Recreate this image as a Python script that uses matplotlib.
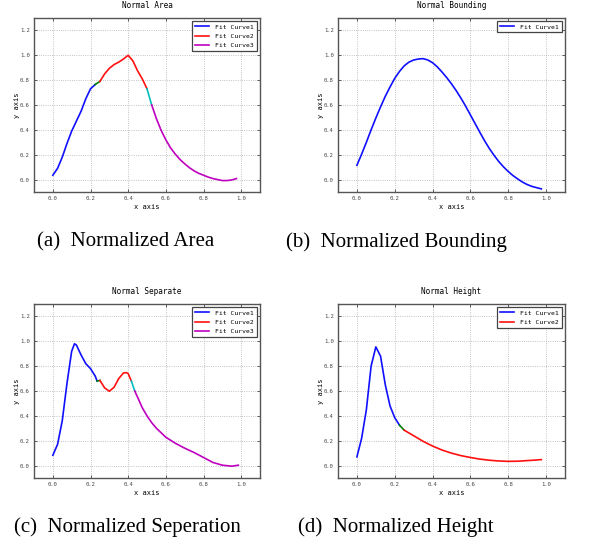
import matplotlib
matplotlib.use("Agg")
import matplotlib.pyplot as plt

W, H = 591, 546

# ---------------- data ----------------
area_x1 = [0.0, 0.025, 0.05, 0.075, 0.1, 0.125, 0.15, 0.175, 0.2, 0.225]
area_y1 = [0.035, 0.09, 0.18, 0.29, 0.39, 0.47, 0.55, 0.65, 0.73, 0.765]
area_xj1 = [0.225, 0.25]
area_yj1 = [0.765, 0.79]
area_x2 = [0.25, 0.275, 0.3, 0.325, 0.35, 0.375, 0.4, 0.425, 0.45, 0.475, 0.5]
area_y2 = [0.79, 0.85, 0.895, 0.925, 0.945, 0.97, 1.0, 0.955, 0.875, 0.81, 0.73]
area_xj2 = [0.5, 0.525]
area_yj2 = [0.73, 0.6]
area_x3 = [0.525, 0.55, 0.575, 0.6, 0.625, 0.65, 0.675, 0.7, 0.725, 0.75, 0.775,
           0.8, 0.825, 0.85, 0.875, 0.9, 0.925, 0.95, 0.975]
area_y3 = [0.6, 0.49, 0.396, 0.32, 0.255, 0.205, 0.162, 0.127, 0.096, 0.07, 0.05,
           0.035, 0.02, 0.008, 0.0, -0.008, -0.008, -0.003, 0.008]

bound_x = [0.0, 0.025, 0.05, 0.075, 0.1, 0.125, 0.15, 0.175, 0.2, 0.225, 0.25,
           0.275, 0.3, 0.325, 0.35, 0.375, 0.4, 0.425, 0.45, 0.475, 0.5, 0.525,
           0.55, 0.575, 0.6, 0.625, 0.65, 0.675, 0.7, 0.725, 0.75, 0.775, 0.8,
           0.825, 0.85, 0.875, 0.9, 0.925, 0.95, 0.975]
bound_y = [0.115, 0.205, 0.30, 0.40, 0.495, 0.585, 0.67, 0.745, 0.815, 0.87, 0.915,
           0.945, 0.962, 0.97, 0.973, 0.962, 0.94, 0.907, 0.865, 0.82, 0.77, 0.715,
           0.655, 0.59, 0.52, 0.45, 0.38, 0.312, 0.25, 0.195, 0.145, 0.102, 0.065,
           0.032, 0.005, -0.02, -0.04, -0.055, -0.065, -0.075]

sep_x1 = [0.0, 0.025, 0.05, 0.075, 0.1, 0.115, 0.125, 0.15, 0.175, 0.2, 0.225, 0.235]
sep_y1 = [0.083, 0.17, 0.36, 0.66, 0.92, 0.98, 0.97, 0.89, 0.82, 0.78, 0.72, 0.68]
sep_xj1 = [0.235, 0.25]
sep_yj1 = [0.68, 0.685]
sep_x2 = [0.25, 0.275, 0.3, 0.325, 0.35, 0.375, 0.39, 0.4, 0.417]
sep_y2 = [0.685, 0.625, 0.598, 0.63, 0.70, 0.745, 0.748, 0.74, 0.68]
sep_xj2 = [0.417, 0.435]
sep_yj2 = [0.68, 0.6]
sep_x3 = [0.435, 0.45, 0.475, 0.5, 0.525, 0.55, 0.6, 0.65, 0.7, 0.75, 0.8, 0.85,
          0.9, 0.95, 0.985]
sep_y3 = [0.6, 0.55, 0.465, 0.4, 0.345, 0.3, 0.228, 0.18, 0.14, 0.105, 0.065,
          0.025, 0.003, -0.005, 0.003]

hgt_x1 = [0.0, 0.025, 0.05, 0.075, 0.1, 0.125, 0.15, 0.175, 0.2, 0.225]
hgt_y1 = [0.07, 0.22, 0.45, 0.8, 0.955, 0.88, 0.65, 0.48, 0.385, 0.325]
hgt_xj1 = [0.225, 0.25]
hgt_yj1 = [0.325, 0.285]
hgt_x2 = [0.25, 0.3, 0.35, 0.4, 0.45, 0.5, 0.55, 0.6, 0.65, 0.7, 0.75, 0.8, 0.85,
          0.9, 0.95, 0.975]
hgt_y2 = [0.285, 0.24, 0.195, 0.157, 0.125, 0.1, 0.08, 0.065, 0.052, 0.043, 0.037,
          0.034, 0.035, 0.04, 0.045, 0.048]

titles = ["Normal Area", "Normal Bounding", "Normal Separate", "Normal Height"]
captions = ["(a)  Normalized Area", "(b)  Normalized Bounding",
            "(c)  Normalized Seperation", "(d)  Normalized Height"]
xticks = [0.0, 0.2, 0.4, 0.6, 0.8, 1.0]
yticks = [0.0, 0.2, 0.4, 0.6, 0.8, 1.0, 1.2]

# ---------------- style ----------------
BLUE, RED, MAG, GRN, CYN = "#1010ff", "#ff1010", "#bf00bf", "#008000", "#00bfbf"
MONO = "DejaVu Sans Mono"

fig = plt.figure(figsize=(W / 100, H / 100), dpi=100)


def make_ax(l, r, t, b):
    return fig.add_axes([l / W, (H - b) / H, (r - l) / W, (b - t) / H])


def style(ax, title):
    ax.set_xlim(-0.1, 1.1)
    ax.set_ylim(-0.1, 1.3)
    ax.set_xticks(xticks)
    ax.set_yticks(yticks)
    ax.set_xticklabels([f"{v:.1f}" for v in xticks], family=MONO, fontsize=4)
    ax.set_yticklabels([f"{v:.1f}" for v in yticks], family=MONO, fontsize=4)
    ax.tick_params(direction="in", length=2, width=0.6, colors="#444444",
                   top=True, right=True, pad=3)
    ax.grid(True, linestyle=":", color="#b0b0b0", linewidth=0.6)
    for s in ax.spines.values():
        s.set_color("#555555")
        s.set_linewidth(1.0)
    ax.set_title(title, family=MONO, fontsize=5.5, pad=7)
    ax.set_xlabel("x axis", family=MONO, fontsize=5, labelpad=2)
    ax.set_ylabel("y axis", family=MONO, fontsize=5, labelpad=0)


def legend(ax):
    leg = ax.legend(loc="upper right", prop={"family": MONO, "size": 4.6},
                    fancybox=False, framealpha=1, handlelength=2.2,
                    borderpad=0.45, labelspacing=0.6, handletextpad=1.0)
    leg.get_frame().set_edgecolor("#444444")
    leg.get_frame().set_linewidth(0.9)


LW = 1.2
ax = make_ax(34, 260, 18, 192)
ax.plot(area_x1, area_y1, color=BLUE, lw=LW, label="Fit Curve1")
ax.plot(area_xj1, area_yj1, color=GRN, lw=LW)
ax.plot(area_x2, area_y2, color=RED, lw=LW, label="Fit Curve2")
ax.plot(area_xj2, area_yj2, color=CYN, lw=LW)
ax.plot(area_x3, area_y3, color=MAG, lw=LW, label="Fit Curve3")
style(ax, titles[0])
legend(ax)

ax = make_ax(338, 565, 18, 192)
ax.plot(bound_x, bound_y, color=BLUE, lw=LW, label="Fit Curve1")
style(ax, titles[1])
legend(ax)

ax = make_ax(34, 260, 304, 478)
ax.plot(sep_x1, sep_y1, color=BLUE, lw=LW, label="Fit Curve1")
ax.plot(sep_xj1, sep_yj1, color=GRN, lw=LW)
ax.plot(sep_x2, sep_y2, color=RED, lw=LW, label="Fit Curve2")
ax.plot(sep_xj2, sep_yj2, color=CYN, lw=LW)
ax.plot(sep_x3, sep_y3, color=MAG, lw=LW, label="Fit Curve3")
style(ax, titles[2])
legend(ax)

ax = make_ax(338, 565, 304, 478)
ax.plot(hgt_x1, hgt_y1, color=BLUE, lw=LW, label="Fit Curve1")
ax.plot(hgt_xj1, hgt_yj1, color=GRN, lw=LW)
ax.plot(hgt_x2, hgt_y2, color=RED, lw=LW, label="Fit Curve2")
style(ax, titles[3])
legend(ax)

cap_pos = [(126, 242), (396, 242), (127, 527), (396, 527)]
for (cx, cy), txt in zip(cap_pos, captions):
    fig.text(cx / W, 1 - cy / H, txt, ha="center", va="center",
             family="Liberation Serif", fontsize=15)

fig.savefig("out.png", dpi=100)
